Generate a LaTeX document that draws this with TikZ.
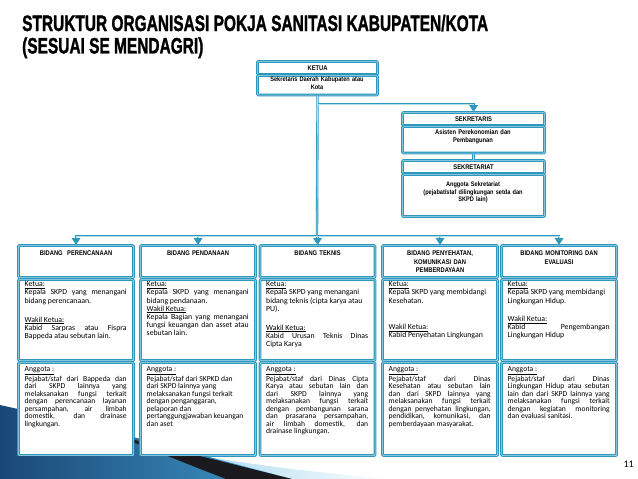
\documentclass[tikz,border=0pt]{standalone}
\usepackage{fontspec}
\usepackage{graphicx}
\setmainfont{Carlito}
\newfontfamily\titlefont[FakeBold=1.6]{Liberation Sans}
\newfontfamily\headfont[FakeStretch=0.85, UprightFont=* Bold]{Liberation Sans}
\usetikzlibrary{arrows.meta}
\definecolor{tealc}{RGB}{46,152,188}
\definecolor{lightc}{RGB}{178,222,238}
\definecolor{navyc}{RGB}{26,72,118}
\definecolor{bluec}{RGB}{62,152,200}
\definecolor{skyc}{RGB}{140,205,232}
\definecolor{inkc}{RGB}{25,25,30}
\tolerance=10000
\hyphenpenalty=10000
\hbadness=10000
\begin{document}
\begin{tikzpicture}[x=1pt,y=-1pt,
  sec/.style={draw=tealc, double=lightc, double distance=0.6pt, line width=1.1pt, fill=white, rounded corners=1pt, inner sep=0pt, anchor=north west},
  hd/.style={font=\headfont\fontsize{6.8}{8.2}\selectfont, align=center, inner sep=0pt, text width=112pt},
  bodyk/.style={font=\fontsize{7.8}{8.1}\selectfont, text width=102pt, align=justify, inner sep=0pt, anchor=north west},
  bodya/.style={font=\fontsize{7.6}{7.5}\selectfont, text width=102pt, align=justify, inner sep=0pt, anchor=north west},
  connout/.style={draw=tealc, line width=2.4pt},
  conninner/.style={draw=lightc, line width=0.7pt},
  arr/.style={-{Triangle[width=8.5pt,length=7pt]}},
  swsky/.style={left color=skyc, right color=white},
  swblue/.style={left color=navyc, right color=bluec},
  swink/.style={fill=inkc}
]
\useasboundingbox (0,0) rectangle (638,479);
\path[fill=white] (0,0) rectangle (638,479);

% background swoosh
\path[swsky] (130,445) .. controls (220,460) and (300,472) .. (390,479) -- (285,479) -- cycle;
\path[swblue] (0,405) .. controls (100,427) and (200,455) .. (292,479) -- (0,479) -- cycle;
\path[swink] (118,436) .. controls (180,451) and (240,466) .. (292,479) -- (226,479) .. controls (195,467) and (160,453) .. (118,436) -- cycle;

% title
\node[anchor=base west, inner sep=0pt] (title) at (22,31) {\resizebox{466pt}{\height}{\titlefont\bfseries\fontsize{22.3}{21}\selectfont\begin{tabular}[t]{@{}l@{}}STRUKTUR ORGANISASI POKJA SANITASI KABUPATEN/KOTA\\(SESUAI SE MENDAGRI)\end{tabular}}};

% KETUA
\node[sec, minimum width=120pt, minimum height=13pt] (kh) at (257,61) {};
\node[hd] (kht) at (kh.center) {KETUA};
\node[sec, minimum width=120pt, minimum height=19.5pt] (kb) at (257,75) {};
\node[hd, anchor=north, text width=117pt, font=\headfont\fontsize{6.6}{7.5}\selectfont] (kbt) at (317,76.8) {Sekretaris Daerah Kabupaten atau\\Kota};

% SEKRETARIS
\node[sec, minimum width=142pt, minimum height=13pt] (sh) at (402,112) {};
\node[hd] (sht) at (sh.center) {SEKRETARIS};
\node[sec, minimum width=142pt, minimum height=26.5pt] (sb) at (402,126) {};
\node[hd, anchor=north, text width=138pt] (sbt) at (473,129.3) {Asisten Perekonomian dan\\Pembangunan};

% SEKRETARIAT
\node[sec, minimum width=142pt, minimum height=13pt] (th) at (402,160) {};
\node[hd] (tht) at (th.center) {SEKRETARIAT};
\node[sec, minimum width=142pt, minimum height=42pt] (tb) at (402,174) {};
\node[hd, anchor=north, text width=138pt, font=\headfont\fontsize{6.6}{7.9}\selectfont] (tbt) at (473,181.2) {Anggota Sekretariat\\(pejabat/staf dilingkungan setda dan\\SKPD lain)};

% columns
\foreach \i/\x in {1/18,2/140,3/259.5,4/382,5/501}{
  \node[sec, minimum width=115pt, minimum height=32pt] (h\i) at (\x,245) {};
  \node[sec, minimum width=115pt, minimum height=81pt] (k\i) at (\x,279) {};
  \node[sec, minimum width=115pt, minimum height=93pt] (a\i) at (\x,362) {};
}

% headers
\node[hd, anchor=north] (h1t) at ([yshift=-6pt]h1.north) {BIDANG\ \ PERENCANAAN};
\node[hd, anchor=north] (h2t) at ([yshift=-6pt]h2.north) {BIDANG PENDANAAN};
\node[hd, anchor=north] (h3t) at ([yshift=-6pt]h3.north) {BIDANG TEKNIS};
\node[hd, anchor=north] (h4t) at ([yshift=-6pt]h4.north) {BIDANG PENYEHATAN,\\KOMUNIKASI DAN\\PEMBERDAYAAN};
\node[hd, anchor=north] (h5t) at ([yshift=-6pt]h5.north) {BIDANG MONITORING DAN\\EVALUASI};

% ketua texts
\node[bodyk] (k1t) at (24.5,281.6) {\underline{Ketua:}\\
Kepala SKPD yang menangani\linebreak
bidang perencanaan.\\[11pt]
\underline{Wakil Ketua:}\\
Kabid Sarpras atau Fispra\linebreak
Bappeda atau sebutan lain.};
\node[bodyk] (k2t) at (146.5,281.6) {\underline{Ketua:}\\
Kepala SKPD yang menangani\linebreak
bidang pendanaan.\\
\underline{Wakil Ketua:}\\
Kepala Bagian yang menangani\linebreak
fungsi keuangan dan asset atau\linebreak
sebutan lain.};
\node[bodyk] (k3t) at (266,281.6) {\underline{Ketua:}\\
Kepala SKPD yang menangani\\
bidang teknis (cipta karya atau\\
PU).\\[11pt]
\underline{Wakil Ketua:}\\
Kabid Urusan Teknis Dinas\linebreak
Cipta Karya};
\node[bodyk] (k4t) at (388.5,281.6) {\underline{Ketua:}\\
Kepala SKPD yang membidangi\\
Kesehatan.\\[18.5pt]
\underline{Wakil Ketua:}\\
Kabid Penyehatan Lingkungan};
\node[bodyk] (k5t) at (507.5,281.6) {\underline{Ketua:}\\
Kepala SKPD yang membidangi\\
Lingkungan Hidup.\\[10.5pt]
\underline{Wakil Ketua:}\\
Kabid Pengembangan\linebreak
Lingkungan Hidup};

% anggota texts
\node[bodya] (a1t) at (24.5,366.6) {\underline{Anggota :}\\
Pejabat/staf dari Bappeda dan\linebreak
dari SKPD lainnya yang\linebreak
melaksanakan fungsi terkait\linebreak
dengan perencanaan layanan\linebreak
persampahan, air limbah\linebreak
domestik, dan drainase\linebreak
lingkungan.};
\node[bodya] (a2t) at (146.5,366.6) {\underline{Anggota :}\\
Pejabat/staf dari SKPKD dan\\
dari SKPD lainnya yang\\
melaksanakan fungsi terkait\\
dengan penganggaran,\\
pelaporan dan\\
pertanggungjawaban keuangan\\
dan aset};
\node[bodya] (a3t) at (266,366.6) {\underline{Anggota :}\\
Pejabat/staf dari Dinas Cipta\linebreak
Karya atau sebutan lain dan\linebreak
dari SKPD lainnya yang\linebreak
melaksanakan fungsi terkait\linebreak
dengan pembangunan sarana\linebreak
dan prasarana persampahan,\linebreak
air limbah domestik, dan\linebreak
drainase lingkungan.};
\node[bodya] (a4t) at (388.5,366.6) {\underline{Anggota :}\\
Pejabat/staf dari Dinas\linebreak
Kesehatan atau sebutan lain\linebreak
dan dari SKPD lainnya yang\linebreak
melaksanakan fungsi terkait\linebreak
dengan penyehatan lingkungan,\linebreak
pendidikan, komunikasi, dan\linebreak
pemberdayaan masyarakat.};
\node[bodya] (a5t) at (507.5,366.6) {\underline{Anggota :}\\
Pejabat/staf dari Dinas\linebreak
Lingkungan Hidup atau sebutan\linebreak
lain dan dari SKPD lainnya yang\linebreak
melaksanakan fungsi terkait\linebreak
dengan kegiatan monitoring\linebreak
dan evaluasi sanitasi.};

% connectors
\coordinate (bt) at (317,236);
\coordinate (j1) at (317,104);
\draw[connout] (kb.south) -- (bt);
\draw[connout, arr] (j1) -| (sh.north);
\draw[connout] (sb.south) -- (th.north);
\foreach \n in {h1,h2,h3,h4,h5} \draw[connout, arr] (bt) -| (\n.north);
\draw[conninner] (kb.south) -- (bt);
\draw[conninner, shorten >=7pt] (j1) -| (sh.north);
\draw[conninner] (sb.south) -- (th.north);
\foreach \n in {h1,h2,h3,h4,h5} \draw[conninner, shorten >=7pt] (bt) -| (\n.north);

% page number
\node[font=\fontsize{10}{12}\selectfont, anchor=east, inner sep=0pt] (pg) at (634,464) {11};

% swoosh again below the boxes (same shapes), in case the first layer is hidden
\begin{scope}
  \clip (0,456.6) rectangle (400,479);
  \path[swsky] (130,445) .. controls (220,460) and (300,472) .. (390,479) -- (285,479) -- cycle;
  \path[swblue] (0,405) .. controls (100,427) and (200,455) .. (292,479) -- (0,479) -- cycle;
  \path[swink] (118,436) .. controls (180,451) and (240,466) .. (292,479) -- (226,479) .. controls (195,467) and (160,453) .. (118,436) -- cycle;
\end{scope}
\begin{scope}
  \clip (134.5,420) rectangle (138.5,456.6);
  \path[swblue] (0,405) .. controls (100,427) and (200,455) .. (292,479) -- (0,479) -- cycle;
  \path[swink] (118,436) .. controls (180,451) and (240,466) .. (292,479) -- (226,479) .. controls (195,467) and (160,453) .. (118,436) -- cycle;
\end{scope}
\end{tikzpicture}
\end{document}
